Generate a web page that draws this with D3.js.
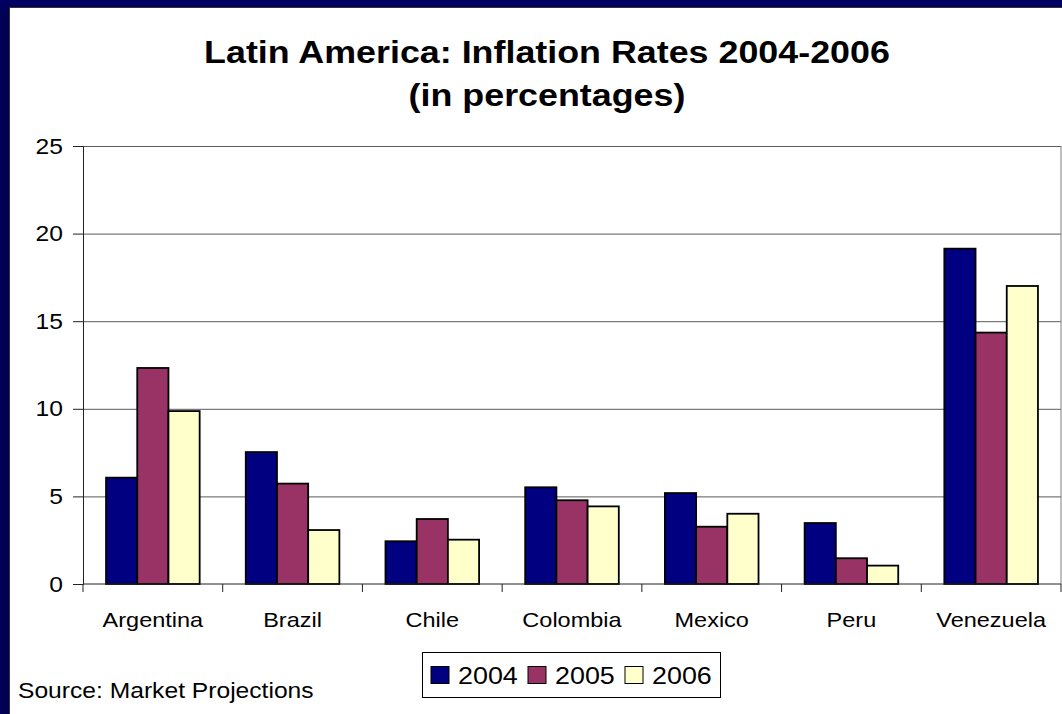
<!DOCTYPE html>
<html>
<head>
<meta charset="utf-8">
<script src="https://cdnjs.cloudflare.com/ajax/libs/d3/7.8.5/d3.min.js"></script>
<style>
  html, body { margin: 0; padding: 0; background: #000055; }
  svg { display: block; }
  text { font-family: "Liberation Sans", Arial, sans-serif; fill: #000; }
</style>
</head>
<body>
<div id="chart"></div>
<script>
// chart data
var countries = ["Argentina", "Brazil", "Chile", "Colombia", "Mexico", "Peru", "Venezuela"];
var years = ["2004", "2005", "2006"];
var rates2004 = [6.07, 7.53, 2.44, 5.52, 5.19, 3.48, 19.14];
var rates2005 = [12.33, 5.73, 3.71, 4.78, 3.27, 1.47, 14.35];
var rates2006 = [9.87, 3.08, 2.53, 4.43, 4.01, 1.05, 17.01];
var yTicks = [0, 5, 10, 15, 20, 25];
var titleLines = ["Latin America: Inflation Rates 2004-2006", "(in percentages)"];
var sourceText = "Source: Market Projections";

var colors = { "2004": "#000080", "2005": "#993366", "2006": "#ffffcc" };

// the whole slide looks a bit wider than tall, so text is stretched sideways
var sx = 1.12;
var fontFamily = "'Liberation Sans', Arial, sans-serif";

var W = 1062, H = 714;
var plot = { left: 83, right: 1061, top: 146, bottom: 584 };

var svg = d3.select("#chart").append("svg")
    .attr("width", W)
    .attr("height", H);

// slide background + white card
svg.append("rect").attr("x", 0).attr("y", 0).attr("width", W).attr("height", H)
    .attr("fill", "#000055");
svg.append("rect").attr("x", 0).attr("y", 0).attr("width", W).attr("height", 7)
    .attr("fill", "#000060");
svg.append("rect").attr("x", 9.5).attr("y", 7.5).attr("width", W - 9).attr("height", H - 7)
    .attr("fill", "#ffffff").attr("stroke", "#333").attr("stroke-width", 1);

function stretchedText(parent, x, y, str, size, weight, anchor) {
    return parent.append("text")
        .attr("transform", "translate(" + x + "," + y + ") scale(" + sx + ",1)")
        .attr("text-anchor", anchor || "start")
        .style("font-family", fontFamily)
        .style("font-size", size + "px")
        .style("font-weight", weight || "normal")
        .text(str);
}

// title
stretchedText(svg, 547, 63, titleLines[0], 32, "bold", "middle");
stretchedText(svg, 547, 106, titleLines[1], 32, "bold", "middle");

var x0 = d3.scaleBand()
    .domain(countries)
    .range([plot.left, plot.right])
    .paddingInner(0.33)
    .paddingOuter(0.165);

var x1 = d3.scaleBand()
    .domain(years)
    .range([0, x0.bandwidth()])
    .padding(0);

var y = d3.scaleLinear()
    .domain([0, 25])
    .range([plot.bottom, plot.top]);

var series = { "2004": rates2004, "2005": rates2005, "2006": rates2006 };

// gridlines
svg.append("g")
    .attr("transform", "translate(" + plot.left + ",0)")
    .call(d3.axisLeft(y).tickValues(yTicks.slice(1)).tickSize(-(plot.right - plot.left)).tickFormat(""))
    .call(function(g) { g.select(".domain").remove(); })
    .selectAll("line")
    .attr("stroke", "#5a5a5a");

// plot area right border
svg.append("line")
    .attr("x1", plot.right).attr("x2", plot.right)
    .attr("y1", plot.top).attr("y2", plot.bottom)
    .attr("stroke", "#808080");

// bars
var groups = svg.append("g").selectAll("g")
    .data(countries)
    .enter().append("g")
    .attr("transform", function(d) { return "translate(" + x0(d) + ",0)"; });

groups.selectAll("rect")
    .data(function(d, i) {
        return years.map(function(yr) { return { year: yr, value: series[yr][i] }; });
    })
    .enter().append("rect")
    .attr("x", function(d) { return x1(d.year); })
    .attr("y", function(d) { return y(d.value); })
    .attr("width", x1.bandwidth())
    .attr("height", function(d) { return y(0) - y(d.value); })
    .attr("fill", function(d) { return colors[d.year]; })
    .attr("stroke", "#000")
    .attr("stroke-width", 1.8);

// y axis
var yAxis = svg.append("g")
    .attr("transform", "translate(" + plot.left + ",0)")
    .call(d3.axisLeft(y).tickValues(yTicks).tickSize(10).tickPadding(9));
yAxis.attr("font-family", null).attr("font-size", null);
yAxis.select(".domain").attr("stroke", "#222");
yAxis.selectAll(".tick line").attr("stroke", "#222");
yAxis.selectAll(".tick text")
    .attr("x", -20 / sx)
    .attr("transform", "scale(" + sx + ",1)")
    .style("font-size", "22px")
    .style("font-family", fontFamily)
    .attr("fill", "#000");

// x axis line + boundary ticks
svg.append("line")
    .attr("x1", plot.left).attr("x2", plot.right)
    .attr("y1", y(0)).attr("y2", y(0))
    .attr("stroke", "#222");

var bounds = d3.range(countries.length + 1).map(function(i) {
    return plot.left + i * x0.step();
});
svg.append("g").selectAll("line")
    .data(bounds)
    .enter().append("line")
    .attr("x1", function(d) { return d; })
    .attr("x2", function(d) { return d; })
    .attr("y1", y(0))
    .attr("y2", y(0) + 8)
    .attr("stroke", "#222");

// category labels
countries.forEach(function(c) {
    stretchedText(svg, x0(c) + x0.bandwidth() / 2, 627, c, 21, "normal", "middle");
});

// legend
var legend = svg.append("g");
legend.append("rect")
    .attr("x", 422.5).attr("y", 652.5)
    .attr("width", 298).attr("height", 45)
    .attr("fill", "#fff").attr("stroke", "#000").attr("stroke-width", 1);

years.forEach(function(yr, i) {
    var lx = 431 + i * 97;
    legend.append("rect")
        .attr("x", lx).attr("y", 666.5)
        .attr("width", 18).attr("height", 17)
        .attr("fill", colors[yr]).attr("stroke", "#000").attr("stroke-width", 1);
    stretchedText(legend, lx + 27, 684, yr, 24, "normal", "start");
});

// source note
stretchedText(svg, 18, 698, sourceText, 22, "normal", "start");
</script>
</body>
</html>
